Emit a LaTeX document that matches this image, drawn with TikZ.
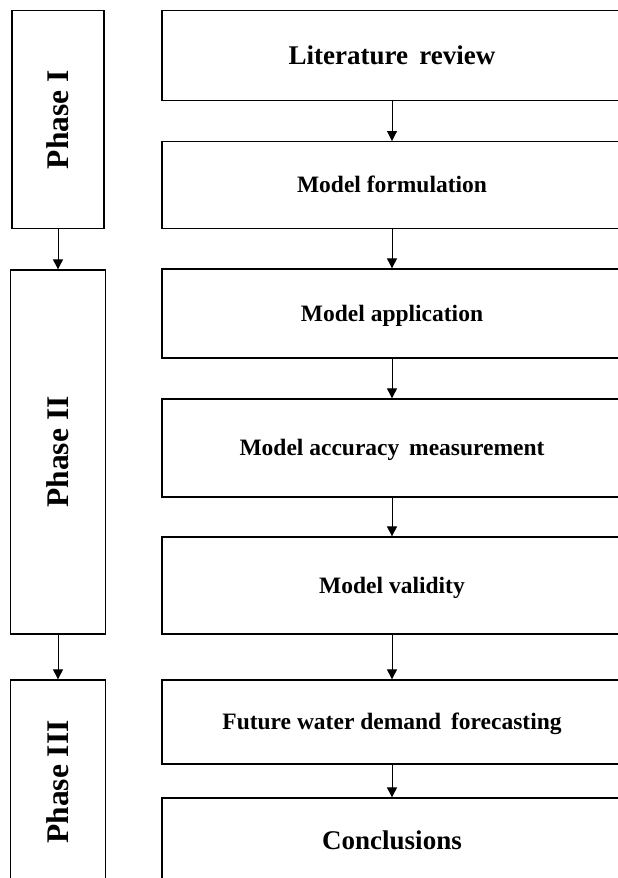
\documentclass[tikz,border=0pt]{standalone}
\usepackage{fontspec}
\setmainfont{Liberation Serif}
\usetikzlibrary{arrows.meta}
\tikzset{
  stagebox/.style={draw=black, line width=1.3pt, rectangle, inner sep=0pt,
    minimum width=460pt, text height=15.5pt, text depth=0pt, align=center,
    font=\bfseries\fontsize{23.5}{28}\selectfont},
  bigtext/.style={font=\bfseries\fontsize{27}{32}\selectfont, text height=17.8pt},
  phasebox/.style={draw=black, line width=1.3pt, rectangle, inner sep=0pt,
    rotate=90, text height=20.8pt, text depth=0pt,
    font=\bfseries\fontsize{31.5}{36}\selectfont},
  flow/.style={line width=0.9pt, -{Triangle[length=10pt,width=10pt]}}
}
\begin{document}
\begin{tikzpicture}[x=1pt,y=-1pt]
\useasboundingbox (0,0) rectangle (618,878);
\clip (0,0) rectangle (618,878);
\fill[white] (0,0) rectangle (618,878);
% phase column
\node[phasebox, minimum width=218pt, minimum height=92pt] (p1) at (58,119.7) {Phase I};
\node[phasebox, minimum width=364pt, minimum height=95pt] (p2) at (58,452) {Phase II};
\node[phasebox, minimum width=204pt, minimum height=95pt] (p3) at (58,782) {Phase III};
% stage column
\node[stagebox, bigtext, minimum height=90pt] (lit) at (392,55.7) {Literature\, review};
\node[stagebox, minimum height=87pt] (form) at (392,185.2) {Model formulation};
\node[stagebox, minimum height=89pt] (app) at (392,313.5) {Model application};
\node[stagebox, minimum height=98pt] (acc) at (392,448) {Model accuracy\, measurement};
\node[stagebox, minimum height=97pt] (val) at (392,585.5) {Model validity};
\node[stagebox, minimum height=84pt] (fut) at (392,722) {Future water demand\, forecasting};
\node[stagebox, bigtext, minimum height=86pt] (conc) at (392,841) {Conclusions};
% connectors
\draw[flow] (p1) -- (p2);
\draw[flow] (p2) -- (p3);
\draw[flow] (lit) -- (form);
\draw[flow] (form) -- (app);
\draw[flow] (app) -- (acc);
\draw[flow] (acc) -- (val);
\draw[flow] (val) -- (fut);
\draw[flow] (fut) -- (conc);
\end{tikzpicture}
\end{document}
